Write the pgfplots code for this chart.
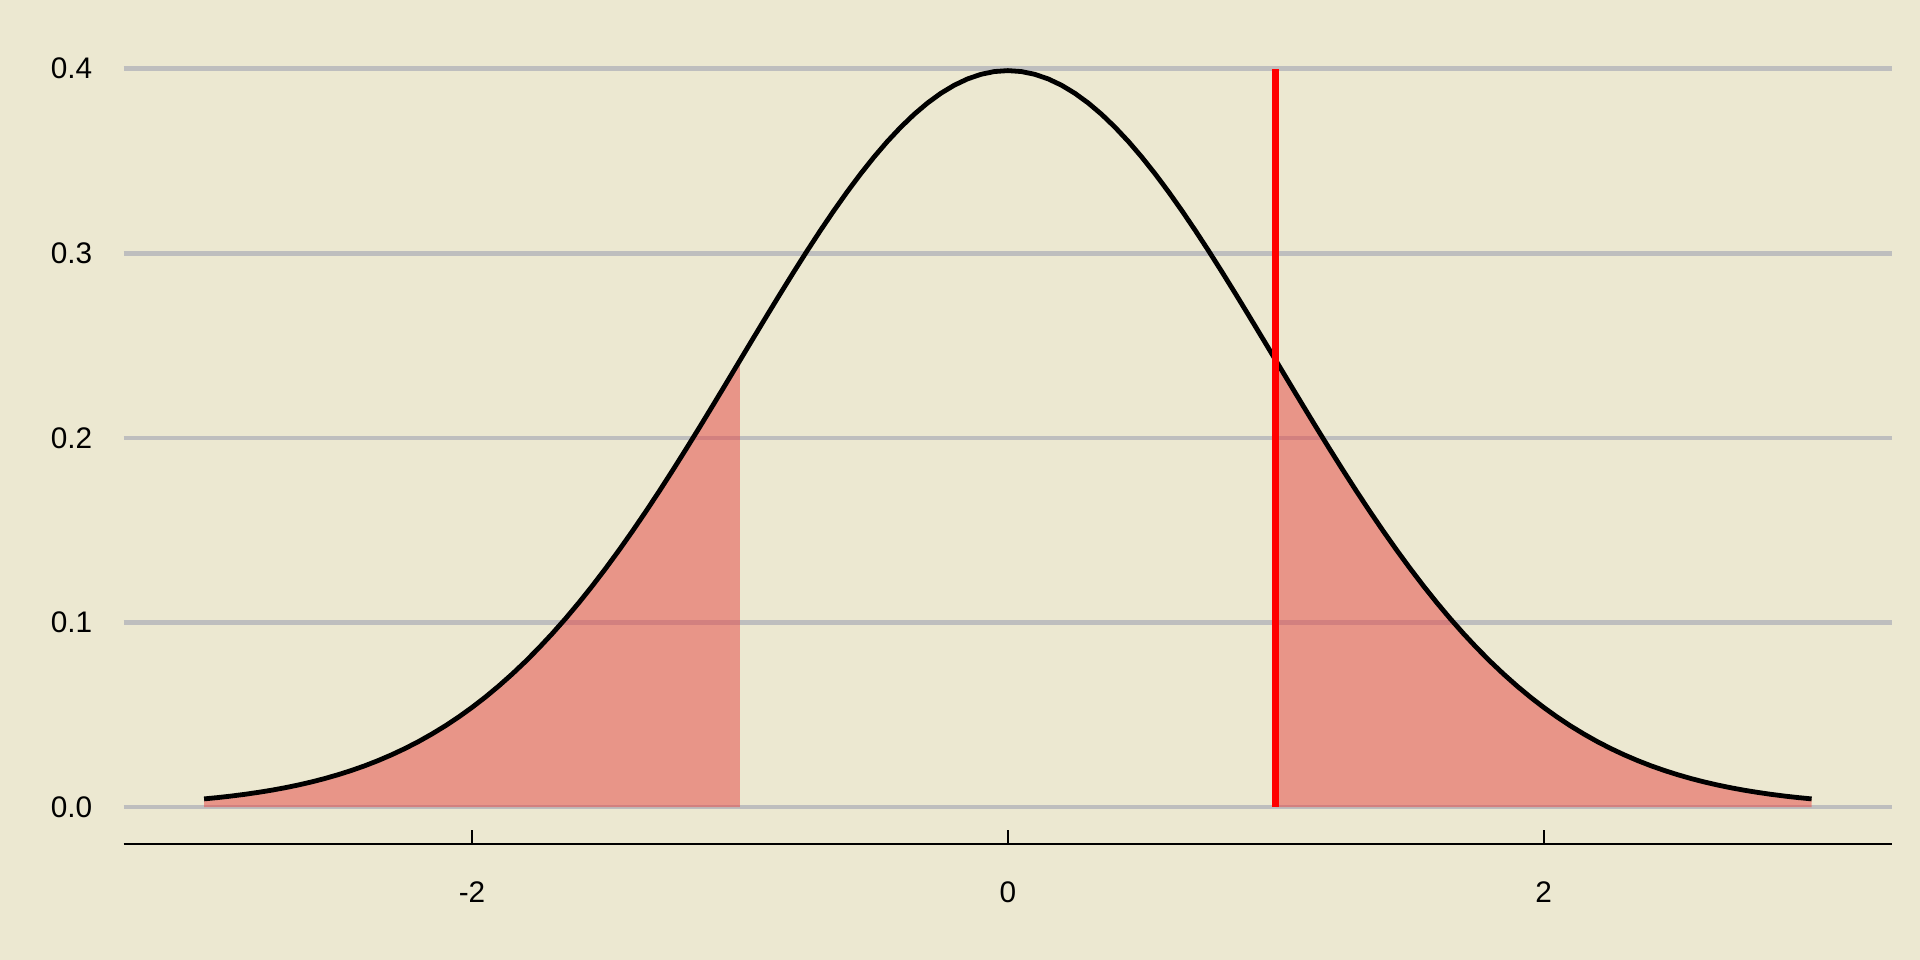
\documentclass[border=0pt]{standalone}
\usepackage{pgfplots}
\pgfplotsset{compat=1.18}
\usepackage{pgfplotstable}
\usepackage{fontspec}
\setmainfont{Liberation Sans}
\definecolor{bg}{HTML}{ECE8D1}
\definecolor{gridc}{HTML}{BEBEBE}
\definecolor{shade}{RGB}{230,68,65}
\pgfplotstableread{
x y
-3.00 0.00443
-2.95 0.00514
-2.90 0.00595
-2.85 0.00687
-2.80 0.00792
-2.75 0.00909
-2.70 0.01042
-2.65 0.01191
-2.60 0.01358
-2.55 0.01545
-2.50 0.01753
-2.45 0.01984
-2.40 0.02239
-2.35 0.02522
-2.30 0.02833
-2.25 0.03174
-2.20 0.03547
-2.15 0.03956
-2.10 0.04398
-2.05 0.04879
-2.00 0.05399
-1.95 0.05959
-1.90 0.06562
-1.85 0.07207
-1.80 0.07895
-1.75 0.08628
-1.70 0.09405
-1.65 0.10226
-1.60 0.11092
-1.55 0.12001
-1.50 0.12952
-1.45 0.13943
-1.40 0.14973
-1.35 0.16038
-1.30 0.17137
-1.25 0.18265
-1.20 0.19419
-1.15 0.20593
-1.10 0.21785
-1.05 0.22988
-1.00 0.24197
-0.95 0.25406
-0.90 0.26609
-0.85 0.27798
-0.80 0.28969
-0.75 0.30114
-0.70 0.31225
-0.65 0.32297
-0.60 0.33322
-0.55 0.34294
-0.50 0.35207
-0.45 0.36053
-0.40 0.36827
-0.35 0.37524
-0.30 0.38139
-0.25 0.38667
-0.20 0.39104
-0.15 0.39448
-0.10 0.39695
-0.05 0.39844
0.00 0.39894
0.05 0.39844
0.10 0.39695
0.15 0.39448
0.20 0.39104
0.25 0.38667
0.30 0.38139
0.35 0.37524
0.40 0.36827
0.45 0.36053
0.50 0.35207
0.55 0.34294
0.60 0.33322
0.65 0.32297
0.70 0.31225
0.75 0.30114
0.80 0.28969
0.85 0.27798
0.90 0.26609
0.95 0.25406
1.00 0.24197
1.05 0.22988
1.10 0.21785
1.15 0.20593
1.20 0.19419
1.25 0.18265
1.30 0.17137
1.35 0.16038
1.40 0.14973
1.45 0.13943
1.50 0.12952
1.55 0.12001
1.60 0.11092
1.65 0.10226
1.70 0.09405
1.75 0.08628
1.80 0.07895
1.85 0.07207
1.90 0.06562
1.95 0.05959
2.00 0.05399
2.05 0.04879
2.10 0.04398
2.15 0.03956
2.20 0.03547
2.25 0.03174
2.30 0.02833
2.35 0.02522
2.40 0.02239
2.45 0.01984
2.50 0.01753
2.55 0.01545
2.60 0.01358
2.65 0.01191
2.70 0.01042
2.75 0.00909
2.80 0.00792
2.85 0.00687
2.90 0.00595
2.95 0.00514
3.00 0.00443
}\curve
\begin{document}
\begin{tikzpicture}
\fill[bg] (0,0) rectangle (720bp,360bp);
\useasboundingbox (0,0) rectangle (720bp,360bp);
\begin{axis}[
  at={(46.4bp,43.5bp)}, anchor=south west,
  scale only axis, width=663.1bp, height=303.9bp,
  xmin=-3.3, xmax=3.3, ymin=-0.02, ymax=0.419,
  axis x line*=bottom, axis y line*=left,
  y axis line style={draw=none},
  x axis line style={black, line width=0.75bp, -},
  xtick={-2,0,2}, xticklabels={-2,0,2},
  ytick={0,0.1,0.2,0.3,0.4}, yticklabels={0.0,0.1,0.2,0.3,0.4},
  tick align=inside, major tick length=5.2bp,
  xtick style={black, line width=0.75bp},
  ytick style={draw=none},
  ymajorgrids, grid style={gridc, line width=1.75bp},
  ticklabel style={font=\fontsize{11.2}{13.4}\selectfont, inner sep=0pt},
  xticklabel style={anchor=north, yshift=-14bp},
  yticklabel style={anchor=east, xshift=-11.6bp},
  clip=false,
]
\addplot[draw=none, fill=shade, fill opacity=0.5, restrict x to domain=-3:-1] table {\curve} \closedcycle;
\addplot[draw=none, fill=shade, fill opacity=0.5, restrict x to domain=1:3] table {\curve} \closedcycle;
\addplot[black, line width=1.8bp] table {\curve};
\addplot[red, line width=2.6bp] coordinates {(1,0) (1,0.4)};
\end{axis}
\end{tikzpicture}
\end{document}
